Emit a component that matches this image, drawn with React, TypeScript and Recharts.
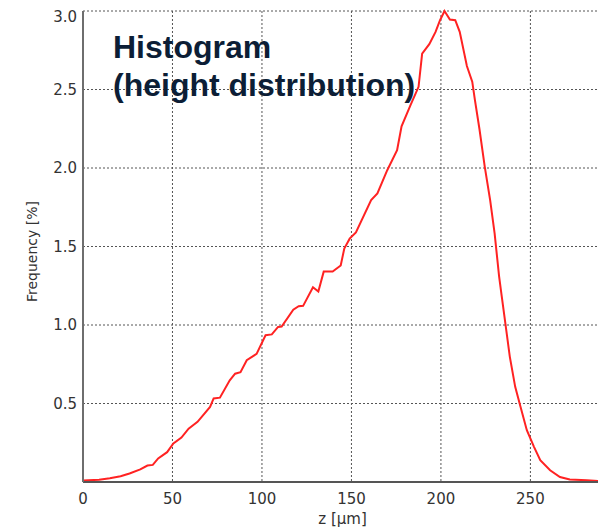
import { CartesianGrid, Line, LineChart, XAxis, YAxis } from 'recharts';

// height bins [µm] and frequency [%]
const zValues = [
  0, 9, 15, 21, 26, 32, 36, 39, 42, 47, 50.5, 55, 59, 64, 71, 73, 76.5, 82, 85, 88, 91.5, 97, 102, 105.5, 109, 111,
  117.5, 120.5, 123, 128.5, 131.5, 134.5, 139.5, 144, 146, 149, 152.5, 161, 164.5, 170, 175.5, 178, 183, 187.5, 189.5,
  193.5, 197, 199.5, 202, 205, 208, 210.5, 214.5, 217.5, 219, 221.5, 224.5, 227.5, 230, 232.5, 234, 236, 238.5, 241.5,
  244.5, 248, 252, 255.5, 261, 266.5, 272, 281.5, 290,
];
const freqValues = [
  0.01, 0.015, 0.024, 0.037, 0.054, 0.08, 0.105, 0.109, 0.15, 0.19, 0.245, 0.283, 0.34, 0.383, 0.478, 0.532, 0.537,
  0.648, 0.69, 0.7, 0.776, 0.816, 0.935, 0.94, 0.988, 0.99, 1.098, 1.12, 1.122, 1.24, 1.213, 1.34, 1.34, 1.379, 1.487,
  1.55, 1.59, 1.795, 1.838, 1.986, 2.113, 2.266, 2.4, 2.517, 2.729, 2.789, 2.867, 2.941, 3.0, 2.946, 2.941, 2.867,
  2.65, 2.55, 2.432, 2.25, 2.007, 1.795, 1.583, 1.31, 1.18, 1.01, 0.797, 0.606, 0.478, 0.33, 0.224, 0.139, 0.075,
  0.032, 0.016, 0.011, 0.005,
];
const xTicks = [0, 50, 100, 150, 200, 250];
const yTicks = [0.5, 1, 1.5, 2, 2.5, 3];
const titleLines = ['Histogram', '(height distribution)'];

const data = zValues.map((z, i) => ({ z, freq: freqValues[i] }));

const tickStyle = { fontFamily: 'DejaVu Sans', fontSize: 15, fill: '#333' };

export default function App() {
  return (
    <div style={{ position: 'relative', width: 598, height: 520 }}>
      <LineChart width={598} height={520} data={data} margin={{ top: 3, right: 4, bottom: 0, left: 0 }}>
        <CartesianGrid xAxisId="b" yAxisId="l" stroke="#555" strokeDasharray="2 2" />
        <XAxis
          xAxisId="b"
          dataKey="z"
          type="number"
          domain={[0, 290]}
          ticks={xTicks}
          height={46}
          tickLine={false}
          tickSize={0}
          tickMargin={11}
          tick={tickStyle}
          axisLine={{ stroke: '#555', strokeWidth: 2 }}
          label={{
            value: 'z [μm]',
            position: 'center',
            dy: 14,
            fill: '#333',
            fontFamily: 'DejaVu Sans',
            fontSize: 15,
          }}
        />
        <XAxis
          xAxisId="t"
          orientation="top"
          dataKey="z"
          type="number"
          domain={[0, 290]}
          ticks={xTicks}
          height={0}
          tick={false}
          tickLine={false}
          axisLine={{ stroke: '#111', strokeWidth: 1.5 }}
        />
        <YAxis
          yAxisId="l"
          type="number"
          domain={[0, 3]}
          ticks={yTicks}
          width={75}
          tickLine={false}
          tickSize={0}
          tickMargin={6}
          tick={tickStyle}
          tickFormatter={(v: number) => v.toFixed(1)}
          axisLine={{ stroke: '#6e6e6e', strokeWidth: 2 }}
          label={{
            value: 'Frequency [%]',
            angle: -90,
            position: 'center',
            dx: -13,
            dy: 5,
            fill: '#333',
            fontFamily: 'DejaVu Sans',
            fontSize: 14,
          }}
        />
        <YAxis
          yAxisId="r"
          orientation="right"
          type="number"
          domain={[0, 3]}
          ticks={yTicks}
          width={0}
          tick={false}
          tickLine={false}
          axisLine={{ stroke: '#222', strokeWidth: 1.5 }}
        />
        <Line
          xAxisId="b"
          yAxisId="l"
          type="linear"
          dataKey="freq"
          stroke="#ff2222"
          strokeWidth={2}
          dot={false}
          isAnimationActive={false}
        />
      </LineChart>
      <div
        style={{
          position: 'absolute',
          left: 105,
          top: 20,
          fontFamily: '"Liberation Sans", Arial, sans-serif',
          fontWeight: 'bold',
          fontSize: 32,
          lineHeight: '38px',
          color: '#0c1e36',
          whiteSpace: 'nowrap',
        }}
      >
        {titleLines.map((t) => (
          <div key={t}>{t}</div>
        ))}
      </div>
    </div>
  );
}
